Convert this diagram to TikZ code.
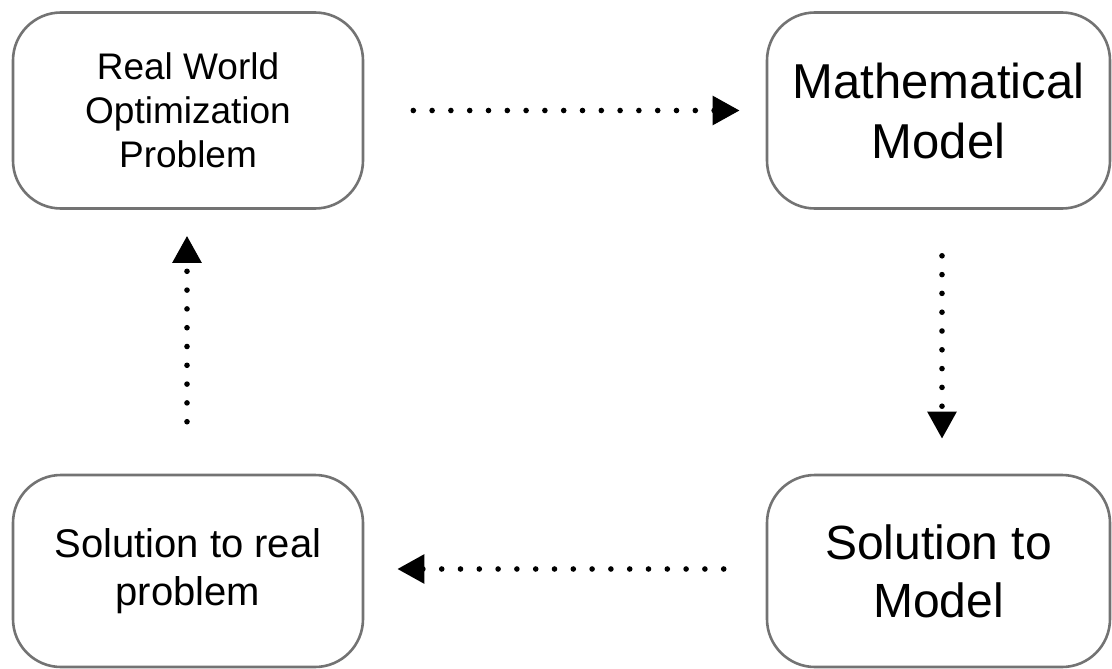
\documentclass[tikz,border=0pt]{standalone}
\usepackage{fontspec}
\setmainfont{Liberation Sans}
\usetikzlibrary{arrows.meta}
\begin{document}
\begin{tikzpicture}[x=1pt,y=-1pt,
  box/.style={draw=black!55, line width=2.6pt, rounded corners=48pt, fill=white,
    inner sep=0pt, align=center, text=black},
  dotarrow/.style={line width=5.6pt, line cap=round, dash pattern=on 0pt off 18.8pt,
    -{Triangle[length=27pt,width=28pt,line cap=butt]}}
]
\useasboundingbox (0,0) rectangle (1112,669);
\node[box, minimum width=350pt, minimum height=196pt,
  font=\fontsize{37}{44}\selectfont] (rw) at (188,110.5)
  {Real World\\Optimization\\Problem};
\node[box, minimum width=343pt, minimum height=196pt,
  font=\fontsize{49}{60}\selectfont] (mm) at (938.5,110.5)
  {Mathematical\\Model};
\node[box, minimum width=343pt, minimum height=192pt,
  font=\fontsize{48}{58}\selectfont] (sm) at (938.5,571)
  {Solution to\\Model};
\node[box, minimum width=350pt, minimum height=192pt,
  font=\fontsize{40}{48}\selectfont] (sr) at (188,571)
  {Solution to real\\problem};
\draw[dotarrow, shorten <=49pt, shorten >=26pt] (rw.east) -- (mm.west);
\draw[dotarrow, shorten <=46pt, shorten >=35pt] ([xshift=3.5pt]mm.south) -- ([xshift=3.5pt]sm.north);
\draw[dotarrow, shorten <=42pt, shorten >=33pt] ([yshift=2pt]sm.west) -- ([yshift=2pt]sr.east);
\draw[dotarrow, shorten <=52pt, shorten >=26pt] ([xshift=-1pt]sr.north) -- ([xshift=-1pt]rw.south);
\end{tikzpicture}
\end{document}
